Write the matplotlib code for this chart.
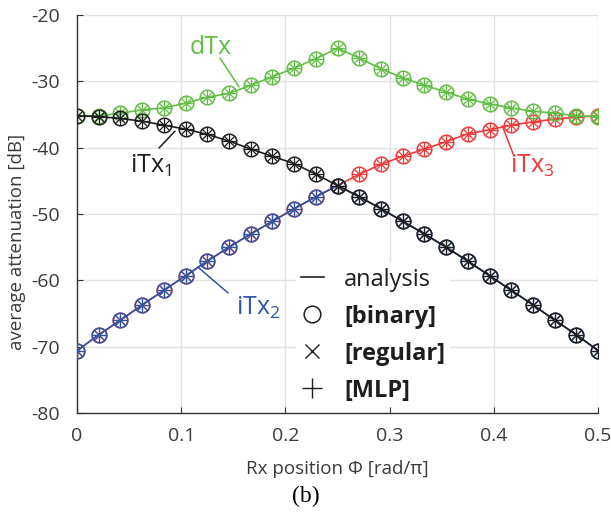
import matplotlib.pyplot as plt
from matplotlib.lines import Line2D
import numpy as np

plt.rcParams['font.family'] = ['Open Sans', 'DejaVu Sans']
plt.rcParams['axes.unicode_minus'] = False
plt.rcParams['mathtext.fontset'] = 'custom'
plt.rcParams['mathtext.rm'] = 'Open Sans'
plt.rcParams['mathtext.it'] = 'Open Sans'

# Rx position in rad/pi, 25 samples over [0, 0.5]
phi = np.linspace(0, 0.5, 25)

dTx = [-35.2, -35.2, -34.8, -34.3, -34.0, -33.3, -32.4, -31.8, -30.6, -29.3, -28.0, -26.6, -25.0,
       -26.5, -28.1, -29.5, -30.6, -31.6, -32.7, -33.4, -34.0, -34.5, -34.8, -35.2, -35.3]
iTx1 = [-35.2, -35.3, -35.6, -36.0, -36.6, -37.2, -38.0, -39.0, -40.2, -41.3, -42.4, -44.0, -45.7,
        -47.4, -49.2, -51.1, -53.0, -55.0, -57.1, -59.3, -61.5, -63.7, -66.0, -68.2, -70.6]
iTx2 = [-70.6, -68.2, -66.0, -63.7, -61.5, -59.3, -57.1, -55.0, -53.0, -51.1, -49.2, -47.4, -45.7,
        -47.4, -49.2, -51.1, -53.0, -55.0, -57.1, -59.3, -61.5, -63.7, -66.0, -68.2, -70.6]
iTx3 = [-70.6, -68.2, -66.0, -63.7, -61.5, -59.3, -57.1, -55.0, -53.0, -51.1, -49.2, -47.4, -45.7,
        -44.0, -42.5, -41.3, -40.2, -39.1, -37.9, -37.3, -36.6, -36.1, -35.7, -35.4, -35.2]

green = '#62bd45'
red = '#ee3a3a'
blue = '#2f55a5'
black = '#1e1e1e'
txt = '#3a3a3a'

fig = plt.figure(figsize=(6.11, 5.17), dpi=100)
ax = fig.add_axes([0.126, 0.201, 0.853, 0.770])

series = [(iTx3, red), (iTx2, blue), (dTx, green), (iTx1, black)]
for y, c in series:
    ax.plot(phi, y, color=c, lw=1.2, zorder=3)
    ax.plot(phi, y, 'o', ms=10.5, mfc='none', mec=c, mew=1.1, zorder=3)
    ax.plot(phi, y, 'x', ms=7, mec=c, mew=0.9, zorder=3)
    ax.plot(phi, y, '+', ms=10, mec=c, mew=0.9, zorder=3)

ax.set_xlim(0, 0.5)
ax.set_ylim(-80, -20)
ax.set_xticks([0, 0.1, 0.2, 0.3, 0.4, 0.5])
ax.set_xticklabels(['0', '0.1', '0.2', '0.3', '0.4', '0.5'])
ax.set_yticks(range(-80, -19, 10))
ax.grid(True, color='#e2e2e2', lw=1)
ax.set_axisbelow(True)
for s in ['top', 'right']:
    ax.spines[s].set_visible(False)
for s in ['left', 'bottom']:
    ax.spines[s].set_color('#333333')
    ax.spines[s].set_linewidth(1.0)
ax.tick_params(direction='in', length=4, colors='#333333', labelsize=14,
               labelcolor=txt)
ax.tick_params(axis='y', pad=12)
ax.tick_params(axis='x', pad=10)
ax.set_xlabel('Rx position Φ [rad/π]', fontsize=13.5, color=txt)
ax.xaxis.set_label_coords(0.5, -0.118)
ax.set_ylabel('average attenuation [dB]', fontsize=13.5, color=txt)
ax.yaxis.set_label_coords(-0.098, 0.43)

# curve labels with leader lines
lab_kw = dict(fontsize=18, ha='left', va='baseline')
ax.text(0.1084, -25.9, 'dTx', color=green, **lab_kw)
ax.annotate('', xy=(0.1555, -30.85), xytext=(0.1372, -26.5),
            arrowprops=dict(arrowstyle='-', color=green, lw=1.1, shrinkA=0, shrinkB=0))
ax.text(0.0509, -43.8, r'iTx$_1$', color=black, **lab_kw)
ax.annotate('', xy=(0.094, -37.5), xytext=(0.0787, -40.05),
            arrowprops=dict(arrowstyle='-', color=black, lw=1.1, shrinkA=0, shrinkB=0))
ax.text(0.1526, -65.2, r'iTx$_2$', color=blue, **lab_kw)
ax.annotate('', xy=(0.116, -58.0), xytext=(0.145, -61.9),
            arrowprops=dict(arrowstyle='-', color=blue, lw=1.1, shrinkA=0, shrinkB=0))
ax.text(0.4155, -43.8, r'iTx$_3$', color=red, **lab_kw)
ax.annotate('', xy=(0.408, -36.7), xytext=(0.4184, -40.96),
            arrowprops=dict(arrowstyle='-', color=red, lw=1.1, shrinkA=0, shrinkB=0))

handles = [Line2D([], [], color=black, lw=1.2),
           Line2D([], [], ls='none', marker='o', ms=12, mfc='none', mec=black, mew=1.1),
           Line2D([], [], ls='none', marker='x', ms=10, mec=black, mew=1.0),
           Line2D([], [], ls='none', marker='+', ms=15, mec=black, mew=1.0)]
labels = ['analysis', '[binary]', '[regular]', '[MLP]']
leg = ax.legend(handles, labels, loc='upper left', bbox_to_anchor=(0.42, 0.377),
                frameon=True, fontsize=17, handlelength=1.0, handletextpad=0.85,
                labelspacing=0.55, borderpad=0.2, borderaxespad=0)
leg.get_frame().set_edgecolor('none')
leg.get_frame().set_facecolor('white')
leg.get_frame().set_alpha(1)
for i, t in enumerate(leg.get_texts()):
    t.set_color('#1e1e1e')
    if i > 0:
        t.set_fontweight('bold')

fig.text(0.5, 0.04, '(b)', fontsize=17, family='Liberation Serif', ha='center', va='center')

fig.savefig('out.png', dpi=100)
